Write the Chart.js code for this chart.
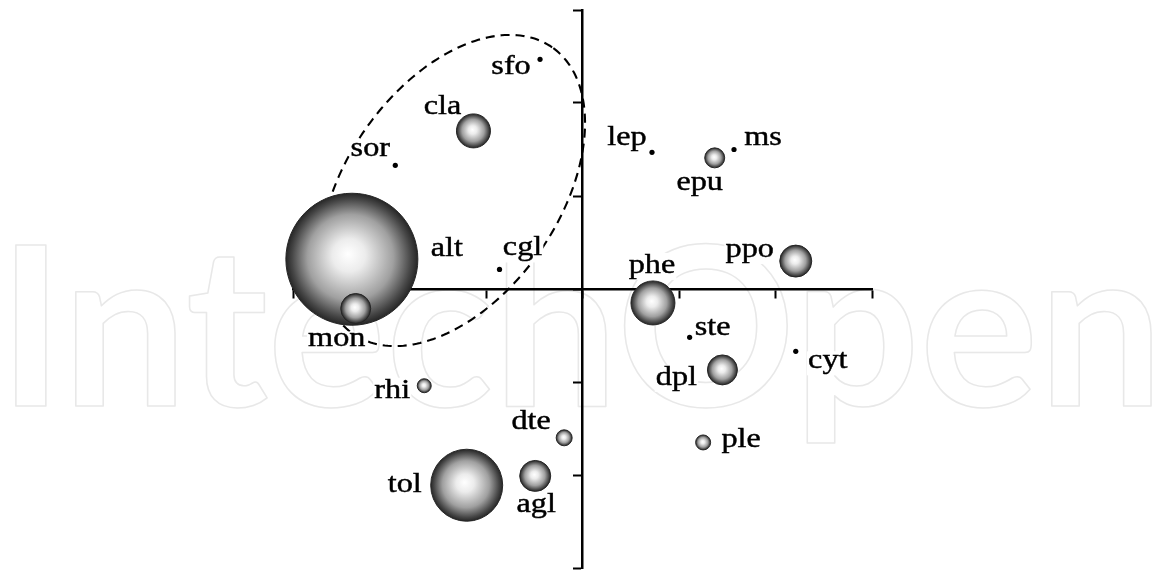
<!DOCTYPE html>
<html><head><meta charset="utf-8">
<script src="https://cdn.jsdelivr.net/npm/chart.js@4.4.0/dist/chart.umd.min.js"></script>
<style>html,body{margin:0;padding:0;background:#fff}#wrap{width:1154px;height:570px;position:relative}</style>
</head><body><div id="wrap"><canvas id="c" width="1154" height="570"></canvas></div>
<script>
// ---- data ----
const bubbleNames = ['cla','alt','mon','epu','ppo','phe','dpl','rhi','dte','ple','tol','agl'];
const bubbleX = [-1.13,-2.39,-2.35,1.37,2.21,0.73,1.45,-1.64,-0.19,1.25,-1.20,-0.49];
const bubbleY = [1.70,0.32,-0.21,1.41,0.30,-0.15,-0.87,-1.04,-1.60,-1.65,-2.11,-2.01];
const bubbleSize = [17,66,15,10,16,22,15,7,8,7.5,36,15.5];
const dotNames = ['sfo','sor','cgl','lep','ms','ste','cyt'];
const dotX = [-0.44,-1.94,-0.86,0.72,1.57,1.11,2.21];
const dotY = [2.47,1.33,0.21,1.47,1.50,-0.52,-0.67];
const axisMin = -3, axisMax = 3, axisStep = 1;
// ellipse (data units): centre and two conjugate half-axis vectors
const ellipseCenter = [-1.347, 1.059];
const ellipseU = [1.032, 1.540];
const ellipseV = [-0.906, 0.654];
// label offsets in px (centre x, baseline y) relative to each point
const labelOffsets = {
  sfo:[-29,15], cla:[-31,-17], sor:[-25,-9], alt:[95,-3], cgl:[23,-14], mon:[-19,37],
  phe:[-1,-30], ppo:[-46,-4], ste:[23,-2], cyt:[32,17], dpl:[-46,15], ple:[38,5],
  lep:[-25,-7], ms:[29,-5], epu:[-15,32], dte:[-33,-9], agl:[1,36], tol:[-62,7], rhi:[-32,12]
};

const bubbleData = bubbleNames.map((n,i)=>({x:bubbleX[i], y:bubbleY[i], r:bubbleSize[i], name:n}));
const dotData = dotNames.map((n,i)=>({x:dotX[i], y:dotY[i], r:2.6, name:n}));

function bubbleFill(c){
  const chart = c.chart, raw = c.raw;
  if(!raw || !chart.scales || !chart.scales.x || !chart.scales.y) return '#aaa';
  const x = chart.scales.x.getPixelForValue(raw.x), y = chart.scales.y.getPixelForValue(raw.y), r = raw.r;
  if(!isFinite(x) || !isFinite(y) || !isFinite(r)) return '#aaa';
  const g = chart.ctx.createRadialGradient(x - r*0.06, y - r*0.08, 0, x, y, r);
  g.addColorStop(0, '#ffffff');
  g.addColorStop(0.25, '#ececec');
  g.addColorStop(0.65, '#a0a0a0');
  g.addColorStop(0.9, '#464646');
  g.addColorStop(1, '#262626');
  return g;
}

const watermarkPlugin = {
  id:'watermark',
  beforeDraw(chart){
    const ctx = chart.ctx;
    ctx.save();
    ctx.font = 'bold 222px Lato';
    ctx.textBaseline = 'alphabetic';
    ctx.strokeStyle = '#e8e8e8';
    ctx.lineWidth = 1.5;
    ctx.lineJoin = 'round';
    ctx.strokeText('IntechOpen', -2, 406, 1172);
    ctx.restore();
  }
};

const ellipsePlugin = {
  id:'ellipse',
  beforeDatasetsDraw(chart){
    const xs = chart.scales.x, ys = chart.scales.y, ctx = chart.ctx;
    ctx.save();
    ctx.beginPath();
    const N = 240;
    for(let k=0;k<=N;k++){
      const t = k/N*2*Math.PI;
      const dx = ellipseCenter[0] + ellipseU[0]*Math.cos(t) + ellipseV[0]*Math.sin(t);
      const dy = ellipseCenter[1] + ellipseU[1]*Math.cos(t) + ellipseV[1]*Math.sin(t);
      const px = xs.getPixelForValue(dx), py = ys.getPixelForValue(dy);
      if(k===0) ctx.moveTo(px,py); else ctx.lineTo(px,py);
    }
    ctx.setLineDash([9,6]);
    ctx.lineWidth = 2.1;
    ctx.strokeStyle = '#000';
    ctx.stroke();
    ctx.restore();
  }
};

const labelPlugin = {
  id:'labels',
  afterDatasetsDraw(chart){
    const xs = chart.scales.x, ys = chart.scales.y, ctx = chart.ctx;
    const all = bubbleData.concat(dotData);
    ctx.save();
    ctx.font = '28px "Liberation Serif"';
    ctx.textAlign = 'center';
    ctx.textBaseline = 'alphabetic';
    all.forEach(p=>{
      const off = labelOffsets[p.name];
      const px = xs.getPixelForValue(p.x) + off[0];
      const py = ys.getPixelForValue(p.y) + off[1];
      ctx.save();
      ctx.translate(px, py);
      ctx.scale(1.15, 1);
      const m = ctx.measureText(p.name);
      ctx.fillStyle = '#fff';
      ctx.fillRect(-m.width/2 - 1, -m.actualBoundingBoxAscent - 1, m.width + 2, m.actualBoundingBoxAscent + m.actualBoundingBoxDescent + 2);
      ctx.fillStyle = '#000';
      ctx.strokeStyle = '#000';
      ctx.lineWidth = 0.45;
      ctx.fillText(p.name, 0, 0);
      ctx.strokeText(p.name, 0, 0);
      ctx.restore();
    });
    ctx.restore();
  }
};

const axisCommon = {
  type:'linear', min:axisMin, max:axisMax,
  grid:{drawOnChartArea:false, drawTicks:true, tickLength:8, tickWidth:2, tickColor:'#000'},
  border:{display:true, color:'#000', width:2.5},
  ticks:{display:false, stepSize:axisStep}
};

new Chart(document.getElementById('c'), {
  type:'bubble',
  data:{datasets:[
    {label:'groups', data:bubbleData, backgroundColor:bubbleFill, borderColor:'#262626', borderWidth:1, clip:false, hoverRadius:0},
    {label:'points', data:dotData, backgroundColor:'#000', borderColor:'#000', borderWidth:0, clip:false, hoverRadius:0}
  ]},
  options:{
    responsive:false, animation:false, events:[],
    layout:{autoPadding:false, padding:{left:293, right:282, top:10, bottom:2}},
    plugins:{legend:{display:false}, tooltip:{enabled:false}},
    scales:{
      x:Object.assign({}, axisCommon, {position:{y:0}, afterFit(s){s.height=0;}}),
      y:Object.assign({}, axisCommon, {position:{x:0}, afterFit(s){s.width=0;}})
    }
  },
  plugins:[watermarkPlugin, ellipsePlugin, labelPlugin]
});
</script></body></html>
